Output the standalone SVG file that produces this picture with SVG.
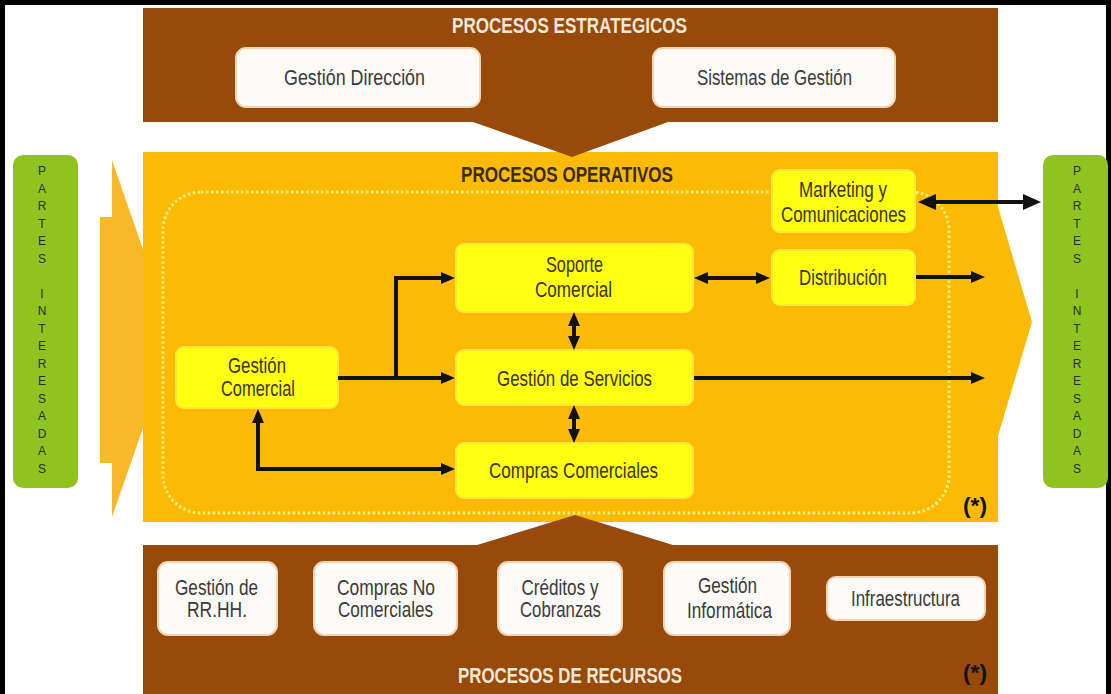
<svg xmlns="http://www.w3.org/2000/svg" width="1111" height="694" viewBox="0 0 1111 694">
<defs>
<style>
.t{font-family:"Liberation Sans Narrow","Liberation Sans",Arial,sans-serif;text-anchor:middle}
.bx{font-size:21.5px;fill:#3a3a3a}
.yt{font-size:21.5px;fill:#3d3413}
.ttl{font-size:22px;font-weight:bold}
.lt{fill:#f6e7d7}
.dk{fill:#3a2a10}
.pi{font-family:"Liberation Sans",Arial,sans-serif;font-size:12px;fill:#2d2d2d;text-anchor:middle}
.wb{fill:#fcfaf7;stroke:#f2d3b4;stroke-width:2}
.yb{fill:#ffff12;stroke:#fbe83c;stroke-width:2}
.gb{fill:#8fc31f}
.brown{fill:#984a0b}
.con{fill:none;stroke:#111;stroke-width:4}
</style>
<marker id="ah" markerUnits="userSpaceOnUse" markerWidth="14" markerHeight="12" refX="8" refY="6" orient="auto-start-reverse"><path d="M0,0 L14,6 L0,12 z" fill="#111"/></marker>
<marker id="ahb" markerUnits="userSpaceOnUse" markerWidth="18" markerHeight="16" refX="10" refY="8" orient="auto-start-reverse"><path d="M0,0 L18,8 L0,16 z" fill="#111"/></marker>
</defs>
<rect x="0" y="0" width="1111" height="694" fill="#ffffff"/>
<g id="frame" fill="#000">
<rect x="0" y="0" width="1111" height="5"/>
<rect x="0" y="0" width="5" height="694"/>
<rect x="1106" y="0" width="5" height="694"/>
</g>
<g id="left-arrow"><path d="M100,217 H112 V160 L174,339 L112,517 V463 H100 Z" fill="#f9b82a"/></g>
<g id="procesos-operativos">
<path d="M143,152 H998 V207 L1032,322 L998,436 V522 H143 Z" fill="#fcba05"/>
<rect x="163" y="192" width="786" height="321" rx="38" fill="none" stroke="#fff07a" stroke-width="3" stroke-dasharray="2.5 2.5"/>
<text class="t ttl dk" x="567" y="182" textLength="212" lengthAdjust="spacingAndGlyphs">PROCESOS OPERATIVOS</text>
<text class="t ttl" x="975" y="513" fill="#111" textLength="24" lengthAdjust="spacingAndGlyphs">(*)</text>
</g>
<g id="procesos-estrategicos">
<path class="brown" d="M143,8 H998 V122 H668 L572,157 L473,122 H143 Z"/>
<text class="t ttl lt" x="569.5" y="33" textLength="235" lengthAdjust="spacingAndGlyphs">PROCESOS ESTRATEGICOS</text>
</g>
<g id="procesos-recursos">
<path class="brown" d="M143,545 H477 L575,515 L673,545 H998 V694 H143 Z"/>
<text class="t ttl lt" x="570" y="683" textLength="224" lengthAdjust="spacingAndGlyphs">PROCESOS DE RECURSOS</text>
<text class="t ttl" x="975" y="680" fill="#111" textLength="24" lengthAdjust="spacingAndGlyphs">(*)</text>
</g>
<g id="partes-izq">
<rect class="gb" x="13" y="155" width="65" height="333" rx="10"/>
<text class="pi" x="42" y="175"><tspan x="42">P</tspan><tspan x="42" dy="17.5">A</tspan><tspan x="42" dy="17.5">R</tspan><tspan x="42" dy="17.5">T</tspan><tspan x="42" dy="17.5">E</tspan><tspan x="42" dy="17.5">S</tspan><tspan x="42" dy="35">I</tspan><tspan x="42" dy="17.5">N</tspan><tspan x="42" dy="17.5">T</tspan><tspan x="42" dy="17.5">E</tspan><tspan x="42" dy="17.5">R</tspan><tspan x="42" dy="17.5">E</tspan><tspan x="42" dy="17.5">S</tspan><tspan x="42" dy="17.5">A</tspan><tspan x="42" dy="17.5">D</tspan><tspan x="42" dy="17.5">A</tspan><tspan x="42" dy="17.5">S</tspan></text>
</g>
<g id="partes-der">
<rect class="gb" x="1043" y="155" width="65" height="333" rx="10"/>
<text class="pi" x="1077" y="175"><tspan x="1077">P</tspan><tspan x="1077" dy="17.5">A</tspan><tspan x="1077" dy="17.5">R</tspan><tspan x="1077" dy="17.5">T</tspan><tspan x="1077" dy="17.5">E</tspan><tspan x="1077" dy="17.5">S</tspan><tspan x="1077" dy="35">I</tspan><tspan x="1077" dy="17.5">N</tspan><tspan x="1077" dy="17.5">T</tspan><tspan x="1077" dy="17.5">E</tspan><tspan x="1077" dy="17.5">R</tspan><tspan x="1077" dy="17.5">E</tspan><tspan x="1077" dy="17.5">S</tspan><tspan x="1077" dy="17.5">A</tspan><tspan x="1077" dy="17.5">D</tspan><tspan x="1077" dy="17.5">A</tspan><tspan x="1077" dy="17.5">S</tspan></text>
</g>
<g id="gestion-direccion">
<rect class="wb" x="236" y="48" width="244" height="59" rx="10"/>
<text class="t bx" x="354.5" y="85" textLength="141" lengthAdjust="spacingAndGlyphs">Gestión Dirección</text>
</g>
<g id="sistemas-gestion">
<rect class="wb" x="653" y="48" width="242" height="59" rx="10"/>
<text class="t bx" x="774.5" y="85" textLength="155" lengthAdjust="spacingAndGlyphs">Sistemas de Gestión</text>
</g>
<g id="marketing">
<rect class="yb" x="772" y="170" width="143" height="62" rx="8"/>
<text class="t yt" x="843" y="197" textLength="88" lengthAdjust="spacingAndGlyphs">Marketing y</text>
<text class="t yt" x="843.5" y="222" textLength="125" lengthAdjust="spacingAndGlyphs">Comunicaciones</text>
</g>
<g id="distribucion">
<rect class="yb" x="772" y="250" width="143" height="55" rx="8"/>
<text class="t yt" x="843" y="285" textLength="88" lengthAdjust="spacingAndGlyphs">Distribución</text>
</g>
<g id="soporte-comercial">
<rect class="yb" x="456" y="244" width="237" height="68" rx="8"/>
<text class="t yt" x="574.5" y="272" textLength="57" lengthAdjust="spacingAndGlyphs">Soporte</text>
<text class="t yt" x="573.5" y="297" textLength="77" lengthAdjust="spacingAndGlyphs">Comercial</text>
</g>
<g id="gestion-servicios">
<rect class="yb" x="456" y="350" width="237" height="55" rx="8"/>
<text class="t yt" x="574.5" y="386" textLength="155" lengthAdjust="spacingAndGlyphs">Gestión de Servicios</text>
</g>
<g id="compras-comerciales">
<rect class="yb" x="456" y="443" width="237" height="55" rx="8"/>
<text class="t yt" x="573.5" y="478" textLength="169" lengthAdjust="spacingAndGlyphs">Compras Comerciales</text>
</g>
<g id="gestion-comercial">
<rect class="yb" x="176" y="347" width="162" height="61" rx="8"/>
<text class="t yt" x="257" y="373" textLength="58" lengthAdjust="spacingAndGlyphs">Gestión</text>
<text class="t yt" x="258" y="396" textLength="74" lengthAdjust="spacingAndGlyphs">Comercial</text>
</g>
<g id="rrhh">
<rect class="wb" x="158" y="562" width="119" height="73" rx="10"/>
<text class="t bx" x="216.5" y="595" textLength="83" lengthAdjust="spacingAndGlyphs">Gestión de</text>
<text class="t bx" x="217" y="617" textLength="60" lengthAdjust="spacingAndGlyphs">RR.HH.</text>
</g>
<g id="compras-no-comerciales">
<rect class="wb" x="314" y="562" width="143" height="73" rx="10"/>
<text class="t bx" x="386" y="595" textLength="98" lengthAdjust="spacingAndGlyphs">Compras No</text>
<text class="t bx" x="385.5" y="617" textLength="95" lengthAdjust="spacingAndGlyphs">Comerciales</text>
</g>
<g id="creditos">
<rect class="wb" x="498" y="562" width="124" height="73" rx="10"/>
<text class="t bx" x="560" y="595" textLength="77" lengthAdjust="spacingAndGlyphs">Créditos y</text>
<text class="t bx" x="560.5" y="617" textLength="81" lengthAdjust="spacingAndGlyphs">Cobranzas</text>
</g>
<g id="gestion-informatica">
<rect class="wb" x="664" y="562" width="126" height="73" rx="10"/>
<text class="t bx" x="727.5" y="593" textLength="59" lengthAdjust="spacingAndGlyphs">Gestión</text>
<text class="t bx" x="729.5" y="618" textLength="85" lengthAdjust="spacingAndGlyphs">Informática</text>
</g>
<g id="infraestructura">
<rect class="wb" x="827" y="577" width="158" height="43" rx="9"/>
<text class="t bx" x="905.5" y="606" textLength="109" lengthAdjust="spacingAndGlyphs">Infraestructura</text>
</g>
<g id="connectors">
<path class="con" d="M338,378 H449" marker-end="url(#ah)"/>
<path class="con" d="M396,378 V278 H449" marker-end="url(#ah)"/>
<path class="con" d="M258,415 V469 H449" marker-start="url(#ah)" marker-end="url(#ah)"/>
<path class="con" d="M574,318 V344" marker-start="url(#ah)" marker-end="url(#ah)"/>
<path class="con" d="M574,411 V437" marker-start="url(#ah)" marker-end="url(#ah)"/>
<path class="con" d="M700,278 H764" marker-start="url(#ah)" marker-end="url(#ah)"/>
<path class="con" d="M916,277 H979" marker-end="url(#ah)"/>
<path class="con" d="M694,378 H979" marker-end="url(#ah)"/>
<path class="con" d="M926,202 H1033" marker-start="url(#ahb)" marker-end="url(#ahb)"/>
</g>
</svg>
